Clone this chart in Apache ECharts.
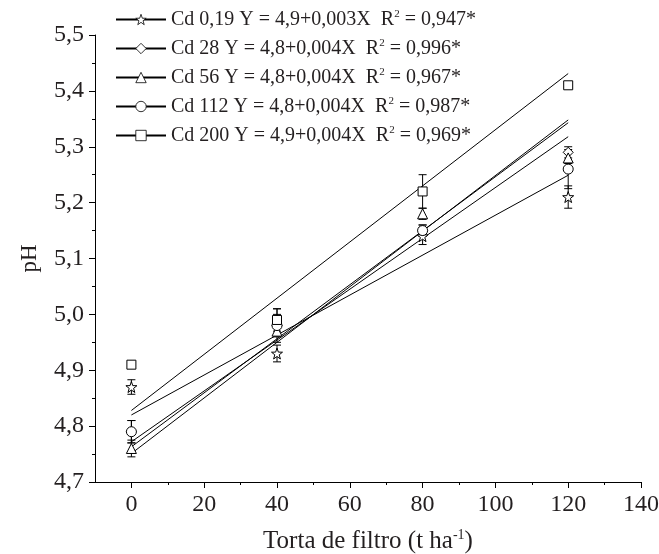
<!DOCTYPE html>
<html>
<head>
<meta charset="utf-8">
<script src="https://cdn.jsdelivr.net/npm/echarts@6/dist/echarts.min.js"></script>
<style>html,body{margin:0;padding:0;background:#fff}#c{width:659px;height:554px}</style>
</head>
<body>
<div id="c"></div>
<script>
// ---- data ----
const doses = [0, 40, 80, 120];
const fitX = [0, 120];

const names = [
  'Cd 0,19 Y = 4,9+0,003X  R2 = 0,947*',
  'Cd 28 Y = 4,8+0,004X  R2 = 0,996*',
  'Cd 56 Y = 4,8+0,004X  R2 = 0,967*',
  'Cd 112 Y = 4,8+0,004X  R2 = 0,987*',
  'Cd 200 Y = 4,9+0,004X  R2 = 0,969*'
];

const cd019 = [4.87, 4.93, 5.14, 5.21];
const cd28  = [4.79, 4.98, 5.15, 5.29];
const cd56  = [4.76, 4.97, 5.18, 5.28];
const cd112 = [4.79, 4.98, 5.15, 5.26];
const cd200 = [4.91, 4.99, 5.22, 5.41];

const err019 = [0.013, 0.015, 0.015, 0.02];
const err28  = [0.02, 0.02, 0.01, 0.01];
const err56  = [0.015, 0.01, 0.01, 0.01];
const err112 = [0.02, 0.03, 0.01, 0.035];
const err200 = [0.005, 0.02, 0.03, 0.005];

const fit019 = [4.820, 5.249];
const fit28  = [4.763, 5.343];
const fit56  = [4.751, 5.348];
const fit112 = [4.772, 5.318];
const fit200 = [4.828, 5.431];

const yTicks = ['4,7','4,8','4,9','5,0','5,1','5,2','5,3','5,4','5,5'];
const xTicks = ['0','20','40','60','80','100','120','140'];
// ----------------------------------------

const STAR = 'path://M0,-10 L2.35,-3.24 9.51,-3.09 3.8,1.24 5.88,8.09 0,4 -5.88,8.09 -3.8,1.24 -9.51,-3.09 -2.35,-3.24 Z';
const symbols = [STAR, 'diamond', 'triangle', 'circle', 'rect'];
const sizes = [11, 10, 10, 10, 9];
const values = [cd019, cd28, cd56, cd112, cd200];
const errs = [err019, err28, err56, err112, err200];
const fits = [fit019, fit28, fit56, fit112, fit200];

const FONT = 'Liberation Serif';
const TXT = '#231f20';
const W = 659, GL = 95, GR = 18, GT = 35, GB = 72;
const xMin = -10, xMax = 140;
const gl2 = GL + (0 - xMin) / (xMax - xMin) * (W - GL - GR);
const supStyle = {fontFamily: FONT, fontSize: 11, color: TXT, verticalAlign: 'bottom', padding: [0, 0, 10, 0]};
const supBig = {fontFamily: FONT, fontSize: 14, color: TXT, verticalAlign: 'bottom', padding: [0, 0, 12, 0]};

function errRender(params, api) {
  const x = api.value(0), y = api.value(1), e = api.value(2);
  const t = api.coord([x, y + e]), b = api.coord([x, y - e]);
  const hw = 4, st = {stroke: '#000', lineWidth: 1};
  return {type: 'group', children: [
    {type: 'line', shape: {x1: t[0], y1: t[1], x2: b[0], y2: b[1]}, style: st},
    {type: 'line', shape: {x1: t[0] - hw, y1: t[1], x2: t[0] + hw, y2: t[1]}, style: st},
    {type: 'line', shape: {x1: b[0] - hw, y1: b[1], x2: b[0] + hw, y2: b[1]}, style: st}
  ]};
}

const series = [];
names.forEach((n, i) => {
  series.push({
    type: 'line', name: n, xAxisIndex: 0, yAxisIndex: 0,
    data: fitX.map((x, k) => [x, fits[i][k]]),
    symbol: symbols[i], showSymbol: false, symbolSize: sizes[i],
    lineStyle: {color: '#000', width: 1},
    itemStyle: {color: '#fff', borderColor: '#000', borderWidth: 1},
    silent: true, z: 2
  });
});
names.forEach((n, i) => {
  series.push({
    type: 'custom', name: 'err' + i, xAxisIndex: 0, yAxisIndex: 0,
    data: doses.map((x, k) => [x, values[i][k], errs[i][k]]),
    renderItem: errRender, z: 3, silent: true
  });
});
names.forEach((n, i) => {
  series.push({
    type: 'scatter', name: 'pts' + i, xAxisIndex: 0, yAxisIndex: 0,
    data: doses.map((x, k) => [x, values[i][k]]),
    symbol: symbols[i], symbolSize: sizes[i],
    itemStyle: {color: '#fff', borderColor: '#000', borderWidth: 1, opacity: 1},
    z: 4, silent: true
  });
});

const chart = echarts.init(document.getElementById('c'), null, {renderer: 'canvas'});
chart.setOption({
  animation: false,
  backgroundColor: '#fff',
  textStyle: {fontFamily: FONT, color: TXT},
  legend: {
    data: names.map(n => ({name: n, itemStyle: {color: '#fff', borderColor: '#000', borderWidth: 0.8}})),
    orient: 'vertical', left: 110, top: 4,
    itemWidth: 50, itemHeight: 13, itemGap: 8.5,
    textStyle: {fontFamily: FONT, fontSize: 20, color: TXT, rich: {sup: supStyle}},
    formatter: n => n.replace('R2', 'R{sup|2}'),
    selectedMode: false
  },
  grid: [
    {left: GL, right: GR, top: GT, bottom: GB, containLabel: false, outerBoundsMode: 'none'},
    {left: gl2, right: GR, top: GT, bottom: GB, containLabel: false, outerBoundsMode: 'none'}
  ],
  xAxis: [
    {type: 'value', gridIndex: 0, min: xMin, max: xMax,
     axisLine: {show: true, onZero: false, lineStyle: {color: '#000', width: 1}},
     axisTick: {show: false}, axisLabel: {show: false}, splitLine: {show: false},
     name: 'Torta de filtro (t ha{sup|-1})', nameLocation: 'middle', nameGap: 46,
     nameTextStyle: {fontFamily: FONT, fontSize: 25, color: TXT, rich: {sup: supBig}}
    },
    {type: 'value', gridIndex: 1, min: 0, max: xMax, interval: 20,
     axisLine: {show: false, onZero: false},
     axisTick: {show: true, length: 6, inside: false, lineStyle: {color: '#000'}},
     minorTick: {show: true, splitNumber: 2, length: 3, lineStyle: {color: '#000'}},
     axisLabel: {fontFamily: FONT, fontSize: 24, color: TXT, margin: 11,
       formatter: v => xTicks[Math.round(v / 20)]},
     splitLine: {show: false}
    }
  ],
  yAxis: [
    {type: 'value', gridIndex: 0, min: 4.7, max: 5.5, interval: 0.1,
     axisLine: {show: true, onZero: false, lineStyle: {color: '#000', width: 1}},
     axisTick: {show: true, length: 6, lineStyle: {color: '#000'}},
     minorTick: {show: true, splitNumber: 2, length: 3, lineStyle: {color: '#000'}},
     axisLabel: {fontFamily: FONT, fontSize: 24, color: TXT, margin: 11,
       formatter: v => yTicks[Math.round((v - 4.7) / 0.1)]},
     splitLine: {show: false},
     name: 'pH', nameLocation: 'middle', nameGap: 54, nameRotate: 90,
     nameTextStyle: {fontFamily: FONT, fontSize: 23, color: TXT}
    },
    {type: 'value', gridIndex: 1, min: 4.7, max: 5.5, show: false}
  ],
  series: series
});
</script>
</body>
</html>
